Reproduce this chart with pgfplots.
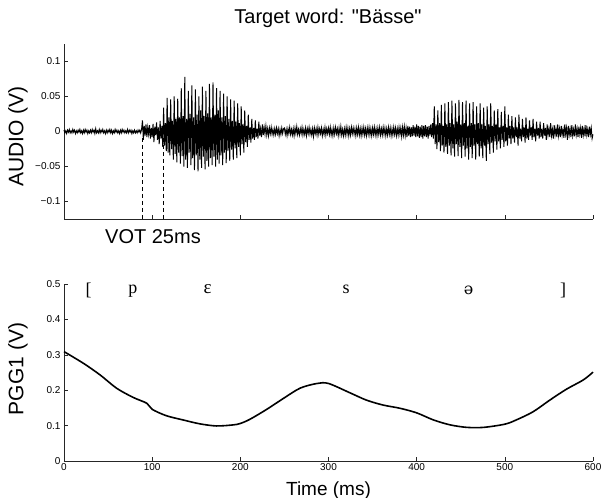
\documentclass[border=0pt]{standalone}
\usepackage{pgfplots}
\pgfplotsset{compat=1.18}
\usepackage{fontspec}
\setmainfont{Liberation Sans}
\newfontfamily\ipafont{Liberation Serif}
\newfontfamily\ipafontb{DejaVu Serif}
\begin{document}
\begin{tikzpicture}
\useasboundingbox (0,0) rectangle (603pt,498pt);
\pgfplotsset{
  every axis/.append style={
    scale only axis, anchor=south west,
    x axis line style={-, black!85, line width=0.6pt},
    y axis line style={-, black!85, line width=0.6pt},
    tick style={black!85, line width=0.6pt},
    tick align=inside, major tick length=4pt,
    tick label style={font=\fontsize{10}{11}\selectfont},
    axis x line*=bottom, axis y line*=left,
    clip=false,
  }
}
% ---------------- top: audio ----------------
\begin{axis}[
  at={(64pt,279pt)}, width=529pt, height=175pt,
  xmin=0, xmax=600, ymin=-0.125, ymax=0.125,
  xtick={100,200,300,400,500,600}, xticklabels={},
  ytick={-0.1,-0.05,0,0.05,0.1},
  yticklabels={−0.1,−0.05,0,0.05,0.1},
  ylabel={AUDIO (V)},
  ylabel style={at={(axis description cs:-0.087,0.47)}, anchor=center, font=\fontsize{21}{24}\selectfont},
]
\addplot[black, line width=0.95pt] table[x expr=\coordindex, y index=0, header=false, row sep=\\] {
0.002\\-0.002\\0.001\\-0.003\\0.002\\-0.001\\0.003\\-0.002\\0.001\\-0.002\\
0.003\\-0.001\\0.002\\-0.003\\0.001\\-0.002\\0.002\\-0.001\\0.003\\-0.002\\
0.001\\-0.003\\0.002\\-0.002\\0.003\\-0.001\\0.002\\-0.003\\0.001\\-0.002\\
0.002\\-0.002\\0.003\\-0.001\\0.002\\-0.003\\0.004\\-0.002\\0.001\\-0.002\\
0.003\\-0.002\\0.002\\-0.001\\0.003\\-0.002\\0.001\\-0.003\\0.002\\-0.002\\
0.002\\-0.001\\0.003\\-0.002\\0.002\\-0.003\\0.001\\-0.002\\0.003\\-0.001\\
0.002\\-0.002\\0.001\\-0.003\\0.002\\-0.002\\0.003\\-0.001\\0.002\\-0.002\\
0.001\\-0.002\\0.003\\-0.002\\0.002\\-0.001\\0.002\\-0.003\\0.001\\-0.002\\
0.002\\-0.002\\0.001\\-0.002\\0.002\\-0.001\\0.002\\-0.002\\0.003\\0.016\\
-0.012\\0.008\\-0.006\\0.010\\-0.008\\0.006\\-0.004\\0.009\\-0.010\\0.005\\
-0.008\\0.011\\-0.015\\0.007\\-0.005\\0.013\\-0.012\\0.006\\-0.018\\0.015\\
-0.010\\0.008\\-0.022\\0.034\\-0.020\\0.012\\-0.028\\0.048\\-0.030\\0.020\\
-0.034\\0.046\\-0.025\\0.015\\-0.040\\0.050\\-0.032\\0.018\\-0.044\\0.047\\
-0.030\\0.020\\-0.046\\0.062\\-0.035\\0.022\\-0.050\\0.078\\-0.040\\0.018\\
-0.052\\0.058\\-0.030\\0.025\\-0.048\\0.066\\-0.038\\0.020\\-0.055\\0.060\\
-0.034\\0.024\\-0.057\\0.050\\-0.040\\0.030\\-0.052\\0.064\\-0.036\\0.022\\
-0.054\\0.058\\-0.042\\0.026\\-0.050\\0.068\\-0.038\\0.020\\-0.048\\0.070\\
-0.036\\0.024\\-0.050\\0.062\\-0.040\\0.030\\-0.046\\0.058\\-0.034\\0.020\\
-0.048\\0.054\\-0.030\\0.022\\-0.045\\0.050\\-0.028\\0.018\\-0.042\\0.046\\
-0.026\\0.015\\-0.040\\0.044\\-0.024\\0.014\\-0.038\\0.040\\-0.022\\0.012\\
-0.034\\0.036\\-0.018\\0.010\\-0.030\\0.030\\-0.015\\0.008\\-0.022\\0.024\\
-0.012\\0.006\\-0.016\\0.018\\-0.010\\0.005\\-0.012\\0.016\\-0.008\\0.004\\
-0.010\\0.014\\-0.006\\0.004\\-0.008\\0.010\\-0.005\\0.006\\-0.004\\0.008\\
-0.005\\0.004\\-0.006\\0.005\\-0.003\\0.006\\-0.004\\0.003\\-0.005\\0.004\\
-0.004\\0.005\\-0.003\\0.004\\-0.006\\0.003\\-0.004\\0.005\\-0.003\\0.004\\
0.005\\-0.004\\0.003\\-0.006\\0.004\\-0.003\\0.006\\-0.004\\0.003\\-0.005\\
0.004\\-0.006\\0.005\\-0.003\\0.007\\-0.004\\0.003\\-0.005\\0.004\\-0.003\\
0.006\\-0.005\\0.003\\-0.004\\0.005\\-0.006\\0.004\\-0.003\\0.006\\-0.004\\
0.003\\-0.005\\0.004\\-0.007\\0.005\\-0.003\\0.004\\-0.005\\0.006\\-0.004\\
0.004\\-0.003\\0.005\\-0.006\\0.003\\-0.004\\0.006\\-0.005\\0.004\\-0.003\\
0.005\\-0.004\\0.006\\-0.005\\0.003\\-0.006\\0.005\\-0.004\\0.006\\-0.003\\
0.004\\-0.006\\0.005\\-0.004\\0.007\\-0.005\\0.003\\-0.006\\0.004\\-0.005\\
0.006\\-0.004\\0.005\\-0.006\\0.004\\-0.005\\0.006\\-0.003\\0.005\\-0.004\\
0.004\\-0.006\\0.005\\-0.004\\0.006\\-0.005\\0.004\\-0.006\\0.005\\-0.004\\
0.006\\-0.005\\0.004\\-0.006\\0.005\\-0.004\\0.006\\-0.005\\0.004\\-0.006\\
0.005\\-0.004\\0.006\\-0.005\\0.004\\-0.006\\0.005\\-0.004\\0.006\\-0.005\\
0.004\\-0.005\\0.006\\-0.004\\0.005\\-0.006\\0.004\\-0.005\\0.006\\-0.004\\
0.005\\-0.006\\0.004\\-0.005\\0.006\\-0.004\\0.005\\-0.006\\0.004\\-0.005\\
0.006\\-0.004\\0.005\\-0.007\\0.006\\-0.005\\0.007\\-0.006\\0.005\\-0.008\\
0.008\\-0.006\\0.007\\-0.008\\0.006\\-0.007\\0.009\\-0.006\\0.007\\-0.008\\
0.010\\-0.007\\0.008\\-0.009\\0.007\\-0.008\\0.009\\-0.010\\0.008\\-0.007\\
0.009\\-0.008\\0.007\\-0.010\\0.008\\-0.006\\0.010\\-0.008\\0.012\\-0.010\\
0.036\\-0.018\\0.010\\-0.025\\0.030\\-0.015\\0.012\\-0.028\\0.038\\-0.020\\
0.008\\-0.030\\0.040\\-0.022\\0.010\\-0.032\\0.042\\-0.020\\0.012\\-0.034\\
0.044\\-0.024\\0.010\\-0.036\\0.040\\-0.018\\0.014\\-0.035\\0.045\\-0.022\\
0.010\\-0.038\\0.042\\-0.020\\0.012\\-0.036\\0.044\\-0.024\\0.008\\-0.040\\
0.040\\-0.022\\0.012\\-0.038\\0.042\\-0.020\\0.010\\-0.040\\0.036\\-0.018\\
0.012\\-0.036\\0.040\\-0.024\\0.010\\-0.038\\0.034\\-0.020\\0.008\\-0.042\\
0.036\\-0.018\\0.010\\-0.032\\0.040\\-0.016\\0.008\\-0.030\\0.030\\-0.014\\
0.010\\-0.026\\0.032\\-0.014\\0.006\\-0.024\\0.028\\-0.012\\0.008\\-0.022\\
0.036\\-0.014\\0.006\\-0.020\\0.024\\-0.010\\0.008\\-0.018\\0.022\\-0.010\\
0.006\\-0.016\\0.020\\-0.008\\0.006\\-0.020\\0.024\\-0.010\\0.004\\-0.014\\
0.018\\-0.008\\0.006\\-0.016\\0.020\\-0.010\\0.004\\-0.012\\0.016\\-0.006\\
0.006\\-0.012\\0.018\\-0.008\\0.004\\-0.014\\0.014\\-0.006\\0.005\\-0.010\\
0.014\\-0.008\\0.004\\-0.010\\0.012\\-0.006\\0.005\\-0.012\\0.010\\-0.005\\
0.004\\-0.008\\0.012\\-0.006\\0.003\\-0.010\\0.009\\-0.005\\0.004\\-0.008\\
0.010\\-0.006\\0.004\\-0.008\\0.008\\-0.005\\0.003\\-0.009\\0.010\\-0.004\\
0.005\\-0.012\\0.008\\-0.005\\0.004\\-0.008\\0.009\\-0.006\\0.003\\-0.007\\
0.010\\-0.005\\0.004\\-0.008\\0.007\\-0.004\\0.005\\-0.009\\0.008\\-0.005\\
0.004\\-0.007\\0.009\\-0.005\\0.003\\-0.008\\0.007\\-0.004\\0.005\\-0.010\\
-0.004\\
};
\addplot[black, line width=0.6pt, dash pattern=on 4.5pt off 2.5pt] coordinates {(88.5,-0.009) (88.5,-0.125)};
\addplot[black, line width=0.6pt, dash pattern=on 4.5pt off 2.5pt] coordinates {(113,-0.009) (113,-0.125)};
\end{axis}
% ---------------- bottom: PGG ----------------
\begin{axis}[
  at={(64pt,37pt)}, width=529pt, height=177pt,
  xmin=0, xmax=600, ymin=0, ymax=0.5,
  xtick={0,100,200,300,400,500,600},
  xticklabels={0,100,200,300,400,500,600},
  ytick={0,0.1,0.2,0.3,0.4,0.5},
  yticklabels={0,0.1,0.2,0.3,0.4,0.5},
  xlabel={Time (ms)},
  xlabel style={at={(axis description cs:0.5,-0.165)}, anchor=center, font=\fontsize{19}{22}\selectfont},
  ylabel={PGG1 (V)},
  ylabel style={at={(axis description cs:-0.087,0.52)}, anchor=center, font=\fontsize{21}{24}\selectfont},
  xticklabel style={yshift=1pt},
]
\addplot[black, line width=1.6pt, smooth] coordinates {
(0,0.309)(22,0.276)(41,0.243)(60,0.205)(79,0.179)(94,0.163)(100,0.146)(116,0.128)
(135,0.116)(154,0.105)(173,0.099)(192,0.102)(200,0.106)(211,0.118)(230,0.146)
(249,0.177)(268,0.206)(287,0.219)(300,0.219)(324,0.193)(343,0.172)(362,0.158)
(381,0.149)(400,0.136)(419,0.116)(438,0.102)(457,0.095)(476,0.095)(500,0.104)
(513,0.116)(532,0.139)(551,0.172)(570,0.203)(589,0.229)(600,0.251)
};
\node[font=\ipafont\fontsize{18}{20}\selectfont] at (axis cs:28,0.483) {[};
\node[font=\ipafont\fontsize{18}{20}\selectfont] at (axis cs:78,0.480) {p};
\node[font=\ipafont\fontsize{19}{20}\selectfont] at (axis cs:163,0.485) {ε};
\node[font=\ipafont\fontsize{18}{20}\selectfont] at (axis cs:320,0.485) {s};
\node[font=\ipafontb\fontsize{16}{20}\selectfont] at (axis cs:459,0.482) {ə};
\node[font=\ipafont\fontsize{18}{20}\selectfont] at (axis cs:566,0.483) {]};
\end{axis}
\node[font=\fontsize{20}{24}\selectfont] at (328pt,480pt) {Target word: \textquotedbl Bässe\textquotedbl};
\node[font=\fontsize{20}{24}\selectfont] at (153pt,261pt) {VOT 25ms};
\end{tikzpicture}
\end{document}
